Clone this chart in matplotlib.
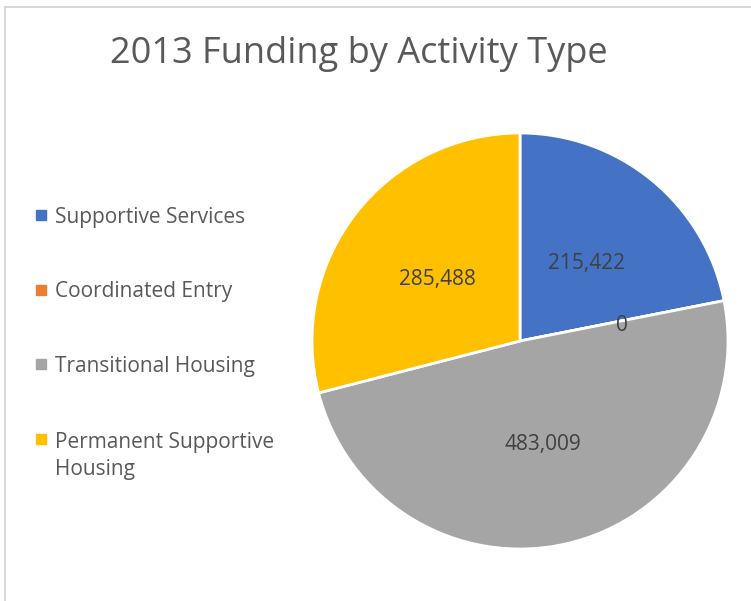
import matplotlib.pyplot as plt
from matplotlib.lines import Line2D
import numpy as np

# chart data
activity = ['Supportive Services', 'Coordinated Entry', 'Transitional Housing', 'Permanent Supportive\nHousing']
funding = [215422, 0, 483009, 285488]
colors = ['#4472C4', '#ED7D31', '#A5A5A5', '#FFC000']

plt.rcParams['font.family'] = ['Open Sans', 'DejaVu Sans']

W, H = 751, 601
fig = plt.figure(figsize=(W / 100, H / 100), dpi=100)

# light grey chart border (top and left visible)
fig.add_artist(Line2D([5 / W, 1], [1 - 7 / H, 1 - 7 / H], color='#D9D9D9', lw=1.5))
fig.add_artist(Line2D([5 / W, 5 / W], [0, 1 - 7 / H], color='#D9D9D9', lw=1.5))

fig.text(359 / W, 1 - 63 / H, '2013 Funding by Activity Type', ha='center', va='baseline',
         fontsize=26, color='#595959')

cx, cy, r = 520, 341, 208
ax = fig.add_axes([(cx - r) / W, (H - cy - r) / H, 2 * r / W, 2 * r / H])
wedges, _ = ax.pie(funding, colors=colors, startangle=90, counterclock=False,
                   wedgeprops=dict(edgecolor='white', linewidth=2))
ax.set_xlim(-1, 1)
ax.set_ylim(-1, 1)
ax.set_aspect('equal')
ax.axis('off')

# data labels at half radius; the zero slice label sits just past its edge
for w, val in zip(wedges, funding):
    ang = np.deg2rad((w.theta1 + w.theta2) / 2)
    if val == 0:
        ang = np.deg2rad(w.theta1 - 1)
    ax.text(0.5 * np.cos(ang), 0.5 * np.sin(ang), f'{val:,}', ha='center',
            va='center_baseline', fontsize=15, color='#404040')

# legend on the left, one entry every ~74.5 px
line_px = 1.35 * 15 * 100 / 72
for i, (name, c) in enumerate(zip(activity, colors)):
    y = 215 + 74.5 * i
    fig.add_artist(Line2D([41 / W], [1 - y / H], marker='s', ls='', color=c, markersize=6.5))
    extra = line_px * name.count('\n')
    fig.text(55 / W, 1 - (y + 8 + extra) / H, name, ha='left', va='baseline', fontsize=15,
             color='#595959', linespacing=1.35)

fig.savefig('out.png', dpi=100)
